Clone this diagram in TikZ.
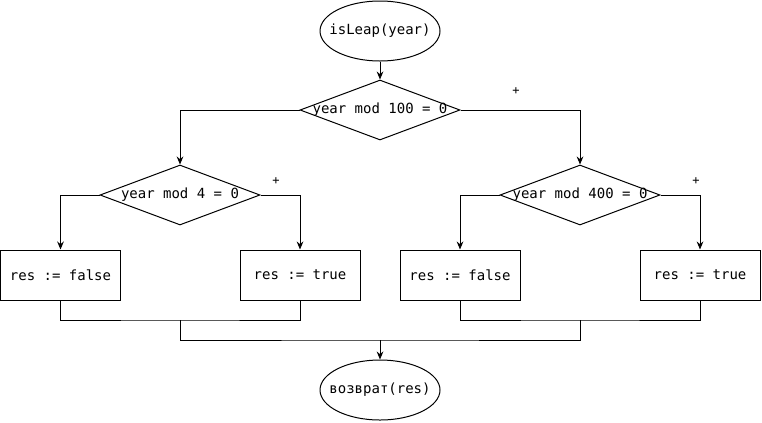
\documentclass[tikz,border=0pt]{standalone}
\usepackage{fontspec}
\setmonofont{DejaVu Sans Mono}
\usetikzlibrary{shapes.geometric,arrows.meta}
\tikzset{
  lbl/.style={font=\ttfamily\fontsize{10.5pt}{12pt}\selectfont, text=black},
  term/.style={draw, ellipse, inner sep=0pt, minimum width=90pt, minimum height=45pt, line width=0.75pt},
  cond/.style={draw, diamond, inner sep=0pt, minimum width=120pt, minimum height=45pt, line width=0.75pt},
  act/.style={draw, rectangle, inner sep=0pt, minimum width=90pt, minimum height=37.5pt, line width=0.75pt},
  flow/.style={line width=0.75pt, -{Stealth[length=6pt,width=5pt]}},
  link/.style={line width=0.75pt},
  plus/.style={font=\ttfamily\fontsize{9pt}{10pt}\selectfont, inner sep=0pt}
}
\begin{document}
\begin{tikzpicture}[x=0.75pt,y=-0.75pt]
\useasboundingbox (0,0) rectangle (762,422);
\node[term, label={[lbl]center:isLeap(year)}] (start) at (380,31) {};
\node[cond, label={[lbl]center:year mod 100 = 0}] (d1) at (380,110) {};
\node[cond, label={[lbl]center:year mod 4 = 0}] (d2) at (180,195) {};
\node[cond, label={[lbl]center:year mod 400 = 0}] (d3) at (580,195) {};
\node[act, label={[lbl]center:res := false}] (b1) at (60.5,275) {};
\node[act, label={[lbl]center:res := true}] (b2) at (300,275) {};
\node[act, label={[lbl]center:res := false}] (b3) at (460,275) {};
\node[act, label={[lbl]center:res := true}] (b4) at (700,275) {};
\node[term, label={[lbl]center:возврат(res)}] (end) at (380,390) {};
\node[plus] (p1) at (516,91) {+};
\node[plus] (p2) at (276,181) {+};
\node[plus] (p3) at (696,181) {+};
\coordinate (j1) at (180,320);
\coordinate (j2) at (580,320);
\coordinate (j3) at (380,340);
\draw[flow] (start.south) -- (d1.north);
\draw[flow] (d1.west) -| (d2.north);
\draw[flow] (d1.east) -| (d3.north);
\draw[flow] (d2.west) -| (b1.north);
\draw[flow] (d2.east) -| (b2.north);
\draw[flow] (d3.west) -| (b3.north);
\draw[flow] (d3.east) -| (b4.north);
\draw[link] (b1.south) |- (j1) -| (b2.south);
\draw[link] (b3.south) |- (j2) -| (b4.south);
\draw[link] (j1) |- (j3) -| (j2);
\draw[flow] (j3) -- (end.north);
\end{tikzpicture}
\end{document}
